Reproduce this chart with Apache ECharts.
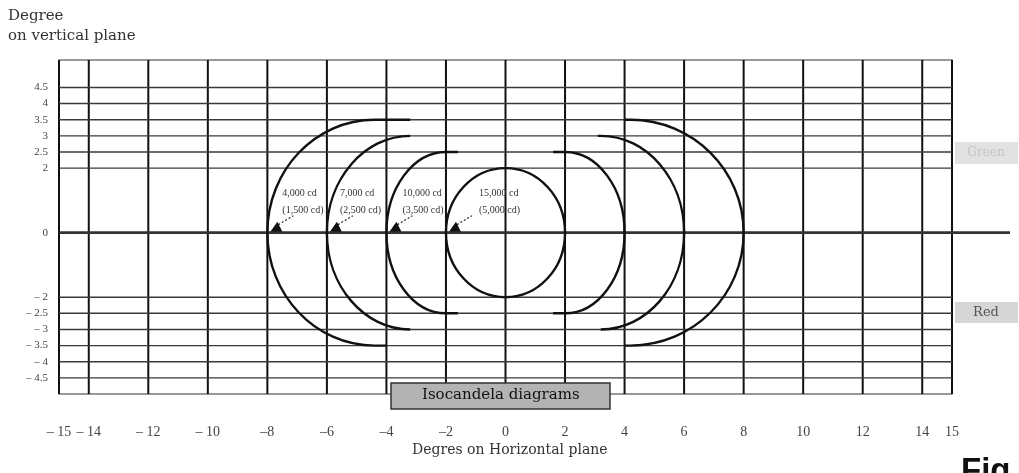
<!DOCTYPE html>
<html>
<head>
<meta charset="utf-8">
<script src="https://cdn.jsdelivr.net/npm/echarts@6/dist/echarts.min.js"></script>
<style>
  html, body { margin: 0; padding: 0; background: #fff; }
  #chart { width: 1019px; height: 473px; }
</style>
</head>
<body>
<div id="chart"></div>
<script>
// Horizontal plane (degrees)
const xTickLabels = [-15, -14, -12, -10, -8, -6, -4, -2, 0, 2, 4, 6, 8, 10, 12, 14, 15];
const xGridLines = [-14, -12, -10, -8, -6, -4, -2, 0, 2, 4, 6, 8, 10, 12, 14];
// Vertical plane (degrees)
const yTickLabels = [4.5, 4, 3.5, 3, 2.5, 2, 0, -2, -2.5, -3, -3.5, -4, -4.5];
const yGridLines = [4.5, 4, 3.5, 3, 2.5, 2, 0, -2, -2.5, -3, -3.5, -4, -4.5];

// Isocandela contours, outermost first
const contourIntensity = ['4,000 cd', '7,000 cd', '10,000 cd', '15,000 cd'];
const contourIntensityAlt = ['(1,500 cd)', '(2,500 cd)', '(3,500 cd)', '(5,000 cd)'];
const contourReach = [8, 6, 4, 2];            // crossing of the 0° line, each side
const contourTop = [3.5, 3, 2.5, 2];
const contourBottom = [-3.5, -3, -2.5, -2];
const contourLeftBend = [-4.4, -3.2, -2, 0];
const contourRightBend = [4.2, 3.2, 2, 0];
const contourLeftTopEnd = [-3.2, -3.2, -1.6, 0];
const contourLeftBottomEnd = [-4, -3.2, -1.6, 0];
const contourRightTopEnd = [4, 3.1, 1.6, 0];
const contourRightBottomEnd = [4, 3.2, 1.6, 0];

const X_MIN = -15, X_MAX = 15;
const Y_MIN = -5, Y_MAX = 5.35;

// one item per half contour: [reach, bend, top, bottom, topEnd, bottomEnd]
const halves = [];
contourReach.forEach((r, i) => {
  halves.push([-r, contourLeftBend[i], contourTop[i], contourBottom[i], contourLeftTopEnd[i], contourLeftBottomEnd[i]]);
  halves.push([r, contourRightBend[i], contourTop[i], contourBottom[i], contourRightTopEnd[i], contourRightBottomEnd[i]]);
});

const SERIF = '"DejaVu Serif", "Liberation Serif", serif';
const TIMES = '"Liberation Serif", serif';
const labelDx = [15, 13, 16, 33];

function fmtX(v) {
  if (!xTickLabels.some(t => Math.abs(t - v) < 1e-6)) return '';
  if (v < 0) return (Math.abs(v) >= 10 ? '\u2013 ' : '\u2013') + Math.abs(v);
  return String(v);
}
function fmtY(v) {
  if (!yTickLabels.some(t => Math.abs(t - v) < 1e-6)) return '';
  if (v < 0) return '\u2013 ' + Math.abs(v);
  return String(v);
}

const chart = echarts.init(document.getElementById('chart'), null, { renderer: 'canvas' });

chart.setOption({
  animation: false,
  backgroundColor: '#fff',
  title: {
    text: 'Isocandela diagrams',
    left: 391, top: 383,
    backgroundColor: '#b3b3b3',
    borderColor: '#333', borderWidth: 1.5,
    padding: [5, 31, 6, 31],
    textStyle: { fontFamily: SERIF, fontSize: 15, fontWeight: 'normal', color: '#111' },
    z: 10
  },
  grid: {
    left: 59, right: 67, top: 60, bottom: 79,
    containLabel: false, outerBoundsMode: 'none',
    show: true, borderColor: '#333', borderWidth: 1.2, backgroundColor: 'transparent'
  },
  xAxis: {
    type: 'value', min: X_MIN, max: X_MAX, interval: 1,
    axisLine: { show: false }, axisTick: { show: false }, splitLine: { show: false },
    axisLabel: { formatter: fmtX, margin: 31, color: '#444', fontFamily: TIMES, fontSize: 14 }
  },
  yAxis: {
    type: 'value', min: Y_MIN, max: Y_MAX, interval: 0.5,
    axisLine: { show: false }, axisTick: { show: false }, splitLine: { show: false },
    axisLabel: { formatter: fmtY, margin: 11, color: '#444', fontFamily: TIMES, fontSize: 11, showMaxLabel: false }
  },
  graphic: [
    { type: 'text', left: 8, top: 6, style: { text: 'Degree\non vertical plane', font: '15px ' + SERIF, fill: '#333', lineHeight: 20 } },
    { type: 'text', left: 412, top: 443, style: { text: 'Degres on Horizontal plane', font: '14px ' + SERIF, fill: '#333' } },
    { type: 'group', left: 955, top: 142, children: [
      { type: 'rect', shape: { x: 0, y: 0, width: 63, height: 22 }, style: { fill: '#e2e2e2' } },
      { type: 'text', x: 31, y: 11, style: { text: 'Green', font: '12px ' + SERIF, fill: '#c4c4c4', align: 'center', verticalAlign: 'middle' } }
    ] },
    { type: 'group', left: 955, top: 302, children: [
      { type: 'rect', shape: { x: 0, y: 0, width: 63, height: 21 }, style: { fill: '#d6d6d6' } },
      { type: 'text', x: 31, y: 10.5, style: { text: 'Red', font: '13px ' + SERIF, fill: '#555', align: 'center', verticalAlign: 'middle' } }
    ] },
    { type: 'text', left: 961, top: 455, style: { text: 'Fig', font: 'bold 33px "Liberation Sans", Arial, sans-serif', fill: '#111' } }
  ],
  series: [
    {
      // vertical grid lines and left/right frame
      type: 'custom', z: 1, silent: true,
      data: xGridLines.map(v => [v, 0]).concat([[X_MIN, 0], [X_MAX, 0]]),
      renderItem(params, api) {
        const x = api.value(0);
        const a = api.coord([x, Y_MIN]), b = api.coord([x, Y_MAX]);
        return { type: 'line', shape: { x1: a[0], y1: a[1], x2: b[0], y2: b[1] }, style: { stroke: '#111', lineWidth: 2 } };
      }
    },
    {
      // horizontal grid lines; the 0° line runs on past the frame
      type: 'custom', z: 1, silent: true,
      data: yGridLines.map(v => [0, v]),
      renderItem(params, api) {
        const y = api.value(1);
        const a = api.coord([X_MIN, y]), b = api.coord([X_MAX, y]);
        const isZero = Math.abs(y) < 1e-9;
        return {
          type: 'line',
          shape: { x1: a[0], y1: a[1], x2: isZero ? api.getWidth() - 9 : b[0], y2: b[1] },
          style: { stroke: isZero ? '#333' : '#3a3a3a', lineWidth: isZero ? 2.6 : 1.4 },
          z2: isZero ? 2 : 1
        };
      }
    },
    {
      // isocandela contour halves
      type: 'custom', z: 3, silent: true,
      data: halves,
      renderItem(params, api) {
        const reach = api.value(0), bend = api.value(1), top = api.value(2), bottom = api.value(3);
        const topEnd = api.value(4), botEnd = api.value(5);
        const pTE = api.coord([topEnd, top]);
        const pT = api.coord([bend, top]);
        const pM = api.coord([reach, 0]);
        const pB = api.coord([bend, bottom]);
        const pBE = api.coord([botEnd, bottom]);
        const K = 0.5523;
        const rx = pM[0] - pT[0];
        const ryT = pM[1] - pT[1];
        const ryB = pB[1] - pM[1];
        const d = [
          'M', pTE[0], pTE[1],
          'L', pT[0], pT[1],
          'C', pT[0] + K * rx, pT[1], pM[0], pM[1] - K * ryT, pM[0], pM[1],
          'C', pM[0], pM[1] + K * ryB, pB[0] + K * rx, pB[1], pB[0], pB[1],
          'L', pBE[0], pBE[1]
        ].join(' ');
        return { type: 'path', shape: { pathData: d }, style: { fill: 'none', stroke: '#111', lineWidth: 2.4 } };
      }
    },
    {
      // intensity annotations pointing at each contour's left crossing
      type: 'custom', z: 4, silent: true,
      data: contourReach.map(r => [-r, 0]),
      renderItem(params, api) {
        const i = params.dataIndex;
        const p = api.coord([api.value(0), api.value(1)]);
        const dx = labelDx[i];
        return {
          type: 'group',
          children: [
            { type: 'text', x: p[0] + dx, y: p[1] - 48, style: { text: contourIntensity[i] + '\n' + contourIntensityAlt[i], font: '10px ' + TIMES, fill: '#333', lineHeight: 17 } },
            { type: 'line', shape: { x1: p[0] + 11, y1: p[1] - 8, x2: p[0] + 26, y2: p[1] - 17 }, style: { stroke: '#222', lineWidth: 1.2, lineDash: [2, 2] } },
            { type: 'polygon', shape: { points: [[p[0] + 3, p[1] - 1], [p[0] + 15, p[1] - 1], [p[0] + 10, p[1] - 11]] }, style: { fill: '#111' } }
          ]
        };
      }
    }
  ]
});
</script>
</body>
</html>
